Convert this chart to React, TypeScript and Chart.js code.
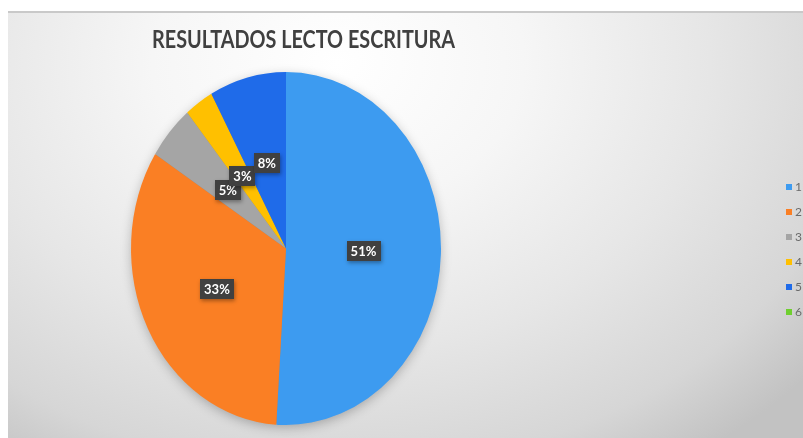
import React, { useEffect, useRef } from "react";
import { Chart, registerables } from "chart.js";

Chart.register(...registerables);

const TITLE = "RESULTADOS LECTO ESCRITURA";
const CATEGORIES = ["1", "2", "3", "4", "5", "6"];
const VALUES = [51, 33, 5, 3, 8, 0];
const COLORS = ["#3D9BF0", "#FA7F24", "#A5A5A5", "#FFC000", "#1F6BE9", "#6FCF2F"];

const SY = 176.5 / 155;

const piePlugin = {
  id: "piePlugin",
  beforeDatasetsDraw(chart: any) {
    const ctx = chart.ctx;
    const arc = chart.getDatasetMeta(0).data[0];
    if (!arc) return;
    const cx = arc.x, cy = arc.y, r = arc.outerRadius;
    ctx.save();
    ctx.shadowColor = "rgba(0,0,0,0.28)";
    ctx.shadowBlur = 12;
    ctx.shadowOffsetY = 3;
    ctx.fillStyle = "#888";
    ctx.beginPath();
    ctx.ellipse(cx, cy, r - 1, r * SY - 1, 0, 0, Math.PI * 2);
    ctx.fill();
    ctx.restore();
    ctx.save();
    ctx.translate(cx, cy);
    ctx.scale(1, SY);
    ctx.translate(-cx, -cy);
  },
  afterDatasetsDraw(chart: any) {
    const ctx = chart.ctx;
    ctx.restore();
    const meta = chart.getDatasetMeta(0);
    const data = chart.data.datasets[0].data as number[];
    const total = data.reduce((a, b) => a + b, 0);
    const first = meta.data[0];
    const cy0 = first.y;
    ctx.save();
    ctx.font = "bold 13px Lato, 'Open Sans', sans-serif";
    ctx.textAlign = "center";
    ctx.textBaseline = "middle";
    meta.data.forEach((el: any, i: number) => {
      const v = data[i];
      if (!v) return;
      const p = el.tooltipPosition(false);
      const x = p.x;
      const y = cy0 + (p.y - cy0) * SY;
      const txt = Math.round((v / total) * 100) + "%";
      const w = ctx.measureText(txt).width + 8;
      const h = 20;
      ctx.save();
      ctx.shadowColor = "rgba(0,0,0,0.35)";
      ctx.shadowBlur = 4;
      ctx.shadowOffsetX = 1;
      ctx.shadowOffsetY = 2;
      ctx.fillStyle = "#404040";
      ctx.fillRect(Math.round(x - w / 2), Math.round(y - h / 2), Math.round(w), h);
      ctx.restore();
      ctx.fillStyle = "#ffffff";
      ctx.fillText(txt, x, y + 1);
    });
    ctx.restore();

    ctx.save();
    ctx.font = "bold 25px Lato, 'Open Sans', sans-serif";
    ctx.fillStyle = "#404040";
    ctx.textAlign = "left";
    ctx.textBaseline = "alphabetic";
    ctx.fillText(chart.options.plugins.customTitle.text, 152, 48, 303);
    ctx.restore();

    ctx.save();
    ctx.font = "12px Lato, 'Open Sans', sans-serif";
    ctx.textAlign = "left";
    ctx.textBaseline = "middle";
    const labels = chart.data.labels as string[];
    const colors = chart.data.datasets[0].backgroundColor as string[];
    labels.forEach((lab, i) => {
      const y = 187 + i * 25;
      ctx.fillStyle = colors[i];
      ctx.fillRect(786, y - 3, 6, 6);
      ctx.fillStyle = "#6a6a6a";
      ctx.fillText(lab, 795, y);
    });
    ctx.restore();
  },
};

export default function App() {
  const ref = useRef<HTMLCanvasElement | null>(null);
  useEffect(() => {
    if (!ref.current) return;
    const chart = new Chart(ref.current, {
      type: "pie",
      data: {
        labels: CATEGORIES,
        datasets: [
          {
            data: VALUES,
            backgroundColor: COLORS,
            borderWidth: 0,
          },
        ],
      },
      options: {
        responsive: false,
        maintainAspectRatio: false,
        animation: false,
        layout: { padding: { left: 131, right: 362, top: 93.5, bottom: 34.5 } },
        plugins: {
          legend: { display: false },
          title: { display: false },
          tooltip: { enabled: false },
          customTitle: { text: TITLE },
        } as any,
      },
      plugins: [piePlugin],
    });
    return () => chart.destroy();
  }, []);

  return (
    <div style={{ position: "fixed", left: 0, top: 0, width: 803, height: 438, background: "#ffffff", overflow: "hidden" }}>
      <div
        style={{
          position: "absolute",
          left: 8,
          top: 11,
          width: 795,
          height: 427,
          borderTop: "2px solid #c9c9c9",
          boxSizing: "border-box",
          background:
            "radial-gradient(ellipse 620px 480px at 330px 50px, #ffffff 0%, #f6f6f6 30%, #e6e6e6 60%, #d6d6d6 85%, #c2c2c2 100%)",
        }}
      />
      <canvas ref={ref} width={803} height={438} style={{ position: "absolute", left: 0, top: 0 }} />
    </div>
  );
}
